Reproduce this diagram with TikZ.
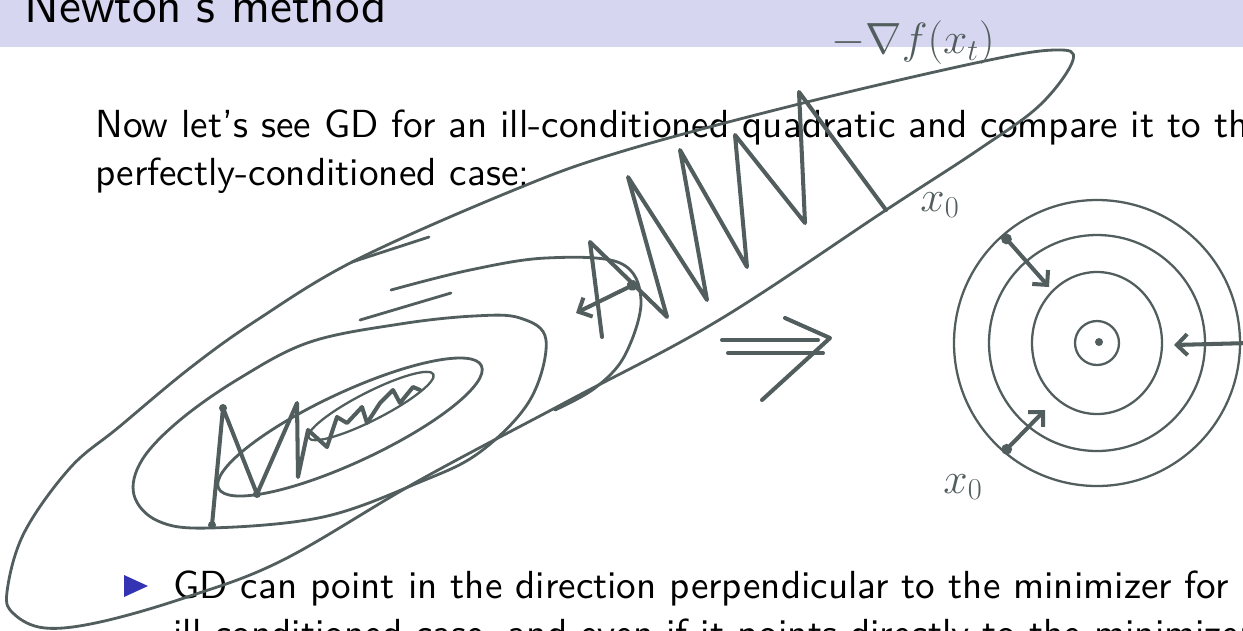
\documentclass[tikz,border=0pt]{standalone}
\usepackage{amsmath,amssymb}
\usepackage{fontspec}
\newfontfamily\slidesans{lmsans10-regular.otf}[Ligatures=TeX]
\usetikzlibrary{arrows.meta}
\definecolor{structure}{RGB}{51,51,179}
\definecolor{ink}{RGB}{82,93,93}

\begin{document}
\begin{tikzpicture}[
    x=0.02cm, y=-0.02cm,
    body/.style={anchor=base west, inner sep=0pt, font=\fontsize{22.3}{26}\selectfont\slidesans},
    pen/.style={draw=ink, line width=1.6pt, line cap=round, line join=round},
    fatpen/.style={pen, line width=2.3pt},
    thinpen/.style={pen, line width=1.3pt},
    hand/.style={text=ink, inner sep=0pt, font=\fontsize{25}{25}\selectfont},
    step arrow/.style={fatpen, {Circle[length=6pt]}-{Straight Barb[length=6pt, width=12pt]}}
]
    \useasboundingbox (0,0) rectangle (1243,630);

    % slide
    \fill[structure!20!white] (0,-10) rectangle (1243,47);
    \node[anchor=base west, inner sep=0pt, font=\fontsize{28}{34}\selectfont\slidesans] (title) at (24,22) {Newton's method};
    \node[body] (line1) at (95,137) {Now let's see GD for an ill-conditioned quadratic and compare it to the};
    \node[body] (line2) at (95,185) {perfectly-conditioned case:};
    \fill[structure] (124,575) -- (148,586) -- (124,597) -- cycle;
    \node[body] (item1) at (173,598) {GD can point in the direction perpendicular to the minimizer for};
    \node[body] (item2) at (173,646) {ill-conditioned case, and even if it points directly to the minimizer};

    % ill-conditioned level sets
    \draw[pen] plot[smooth cycle, tension=0.6] coordinates {(1073,60) (1040,105) (978,150) (886,210) (719,320) (570,400) (420,480) (283,560) (187,597) (100,622) (45,628) (14,614) (7,592) (24,533) (70,468) (119,427) (190,368) (257,320) (356,260) (514,190) (620,152) (795,105) (980,62) (1055,50)};
    \draw[pen] plot[smooth, tension=0.6] coordinates {(391,290) (470,270) (546,258) (620,263) (641,300) (625,355) (595,388) (555,410)};
    \draw[pen] plot[smooth cycle, tension=0.6] coordinates {(546,340) (520,318) (474,316) (400,324) (310,342) (240,378) (180,420) (142,460) (134,495) (158,521) (209,528) (323,517) (420,482) (480,452) (530,400)};
    \begin{scope}[shift={(350,427)}, rotate=25]
        \draw[pen] (0,0) ellipse [x radius=145, y radius=35];
    \end{scope}
    \begin{scope}[shift={(371,406)}, rotate=27]
        \draw[thinpen] (0,0) ellipse [x radius=70, y radius=14];
    \end{scope}
    \draw[pen] (352,262) -- (429,237);
    \draw[pen] (360,320) -- (451,293);

    % GD iterates
    \draw[fatpen] (886,210) -- (799,92) -- (805,223) -- (735,135) -- (747,267) -- (680,150) -- (707,300) -- (628,177) -- (667,317) -- (590,242) -- (602,337);
    \draw[step arrow] (637,283) -- (576,313);
    \draw[fatpen] (212,525) -- (223,408) -- (257,494) -- (297,403) -- (298,477) -- (308,430) -- (327,447) -- (337,417) -- (347,423) -- (362,407) -- (367,423) -- (380,403) -- (393,390) -- (400,403) -- (413,387) -- (420,390);
    \fill[ink] (212,525) circle (4) (223,408) circle (4) (257,494) circle (4);

    % implies
    \draw[fatpen] (722,340) -- (818,340);
    \draw[fatpen] (728,353) -- (823,353);
    \draw[fatpen] (785,318) -- (830,338) -- (762,400);

    % perfectly-conditioned level sets
    \foreach \rx/\ry in {22/22, 65/71, 108/108, 143/143} {
        \draw[thinpen] (1097,343) ellipse [x radius=\rx, y radius=\ry];
    }
    \fill[ink] (1099,342) circle (4);
    \coordinate (a1) at (1003,235);
    \coordinate (a2) at (1003,453);
    \coordinate (a3) at (1250,343);
    \draw[step arrow] (a1) -- (1049,287);
    \draw[step arrow] (a2) -- (1045,410);
    \draw[fatpen, -{Straight Barb[length=6pt, width=12pt]}] (a3) -- (1174,345);

    % labels
    \node[hand] (grad) at (913,43) {$-\nabla f(x_t)$};
    \node[hand] (xa) at (940,205) {$x_0$};
    \node[hand] (xb) at (963,487) {$x_0$};
\end{tikzpicture}
\end{document}
